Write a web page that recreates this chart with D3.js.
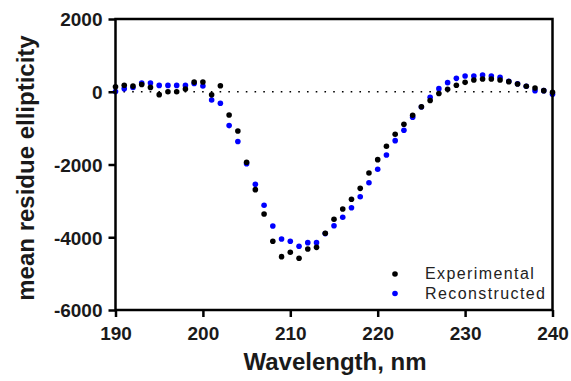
<!DOCTYPE html>
<html>
<head>
<meta charset="utf-8">
<script src="https://cdn.jsdelivr.net/npm/d3@7"></script>
<style>
  body { margin: 0; background: #fff; }
  text { font-family: Arial, "Liberation Sans", sans-serif; }
</style>
</head>
<body>
<div id="chart"></div>
<script>
// wavelength grid, 1 nm steps
const wavelengths = d3.range(190, 241);

const experimental = [
  135, 180, 155, 200, 120, -80, 0, 0, 75, 265,
  270, -85, 165, -639, -1079, -1939, -2692, -3360, -4112, -4534,
  -4414, -4579, -4323, -4277, -3892, -3507, -3223, -2957, -2655, -2234,
  -1867, -1500, -1170, -895, -648, -411, -240, -48, 67, 177,
  259, 323, 350, 350, 323, 277, 213, 150, 103, 30, -15
];

const reconstructed = [
  5, 85, 115, 240, 240, 175, 175, 175, 175, 225,
  160, -225, -317, -930, -1368, -1980, -2544, -3122, -3690, -4048,
  -4112, -4249, -4149, -4149, -3900, -3682, -3452, -3187, -2885, -2500,
  -2132, -1739, -1345, -1060, -703, -420, -153, 85, 250, 369,
  433, 433, 460, 433, 396, 290, 220, 150, 30, 30, -70
];

const xTicks = [190, 200, 210, 220, 230, 240];
const yTicks = [-6000, -4000, -2000, 0, 2000];
const seriesNames = ['Experimental', 'Reconstructed'];
const seriesColors = ['#000000', '#0000ff'];

const width = 571, height = 381;
const plot = { left: 115.5, right: 552.5, top: 19, bottom: 310 };

const svg = d3.select('#chart').append('svg')
  .attr('width', width)
  .attr('height', height);

const x = d3.scaleLinear().domain([190, 240]).range([plot.left, plot.right]);
const y = d3.scaleLinear().domain([-6000, 2000]).range([plot.bottom, plot.top]);

/* ---------- zero reference line (dotted) ---------- */
svg.append('line')
  .attr('x1', x(190)).attr('x2', x(240))
  .attr('y1', y(0)).attr('y2', y(0))
  .attr('stroke', '#000')
  .attr('stroke-width', 1.6)
  .attr('stroke-dasharray', '1.6,' + (x(191) - x(190) - 1.6))
  .attr('stroke-dashoffset', 0.8);

/* ---------- points ---------- */
const rows = [reconstructed, experimental];
const rowColors = [seriesColors[1], seriesColors[0]];
rows.forEach((vals, k) => {
  svg.append('g').selectAll('circle')
    .data(wavelengths.map((w, i) => [w, vals[i]]))
    .enter().append('circle')
    .attr('cx', d => x(d[0]))
    .attr('cy', d => y(d[1]))
    .attr('r', 2.8)
    .attr('fill', rowColors[k]);
});

/* ---------- axes ---------- */
const yAxis = svg.append('g')
  .attr('transform', `translate(${plot.left},0)`)
  .call(d3.axisLeft(y).tickValues(yTicks).tickSize(7).tickPadding(6)
    .tickFormat(d => String(d)));

const xAxis = svg.append('g')
  .attr('transform', `translate(0,${plot.bottom})`)
  .call(d3.axisBottom(x).tickValues(xTicks).tickSize(7).tickPadding(10)
    .tickFormat(d => String(d)));

[yAxis, xAxis].forEach(a => {
  a.select('.domain').remove();
  a.selectAll('line').attr('stroke', '#000').attr('stroke-width', 2.5);
  a.selectAll('text')
    .attr('fill', '#1a1a1a')
    .style('font-size', '19px')
    .style('font-weight', 'bold');
});
yAxis.selectAll('text').attr('dy', '0.36em');

// frame
svg.append('rect')
  .attr('x', plot.left).attr('y', plot.top)
  .attr('width', plot.right - plot.left)
  .attr('height', plot.bottom - plot.top)
  .attr('fill', 'none')
  .attr('stroke', '#000')
  .attr('stroke-width', 2.5);

/* ---------- axis titles ---------- */
svg.append('text')
  .attr('x', 335)
  .attr('y', 370)
  .attr('text-anchor', 'middle')
  .attr('fill', '#1a1a1a')
  .style('font-size', '24px')
  .style('font-weight', 'bold')
  .text('Wavelength, nm');

svg.append('text')
  .attr('transform', `translate(34,168) rotate(-90)`)
  .attr('text-anchor', 'middle')
  .attr('fill', '#1a1a1a')
  .style('font-size', '24px')
  .style('font-weight', 'bold')
  .text('mean residue ellipticity');

/* ---------- legend ---------- */
const legend = svg.append('g');
seriesNames.forEach((name, i) => {
  legend.append('circle')
    .attr('cx', 395).attr('cy', 274 + i * 19.5)
    .attr('r', 2.8)
    .attr('fill', seriesColors[i]);
  legend.append('text')
    .attr('x', 425).attr('y', 279 + i * 19.5)
    .attr('fill', '#222')
    .style('font-size', '16px')
    .style('letter-spacing', '1.4px')
    .text(name);
});
</script>
</body>
</html>
